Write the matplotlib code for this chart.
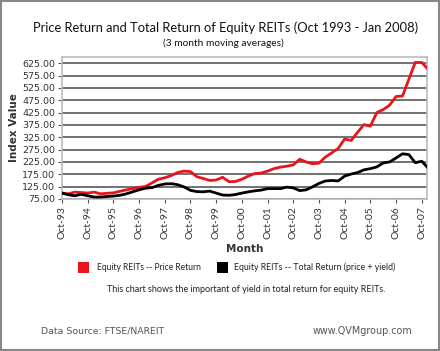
import matplotlib
matplotlib.use("Agg")
import matplotlib.pyplot as plt
import pandas as pd
from matplotlib.patches import Rectangle

# Quarterly readings (3-month moving averages)
dates = pd.date_range("1993-10-01", "2007-10-01", freq="3MS").tolist() + [pd.Timestamp("2007-12-15")]

price_return = [99, 96, 103, 101, 99, 103, 96, 98, 100, 106, 112, 117,
                122, 126, 140, 155, 161, 170, 182, 188, 186, 165, 158, 150,
                152, 163, 145, 146, 155, 168, 178, 180, 188, 198, 204, 208,
                213, 236, 225, 218, 220, 245, 262, 280, 318, 312, 345, 376,
                370, 425, 437, 455, 490, 492, 560, 628, 628, 605]

total_return = [99, 92, 88, 94, 88, 83, 83, 85, 87, 90, 96, 104,
                112, 119, 121, 130, 136, 137, 133, 124, 110, 105, 104, 107,
                99, 91, 90, 93, 99, 104, 108, 111, 117, 117, 117, 123,
                120, 109, 112, 124, 138, 148, 150, 148, 168, 176, 182, 193,
                198, 205, 221, 225, 241, 258, 255, 222, 228, 205]

y_ticks = [75, 125, 175, 225, 275, 325, 375, 425, 475, 525, 575, 625]
x_tick_labels = ["Oct-%02d" % (y % 100) for y in range(1993, 2008)]
x_ticks = [pd.Timestamp(f"{y}-10-01") for y in range(1993, 2008)]

series_names = ["Equity REITs -- Price Return",
                "Equity REITs -- Total Return (price + yield)"]

W, H = 440, 351
fig = plt.figure(figsize=(W / 100, H / 100), dpi=100)
fig.patch.set_facecolor("white")

font = ["Lato", "DejaVu Sans"]
font2 = ["Verdana", "DejaVu Sans"]

fig.add_artist(Rectangle((0.002, 0.003), 0.995, 0.994, transform=fig.transFigure,
                         fill=False, edgecolor="#888888", lw=1.5))

ax = fig.add_axes([62 / W, 1 - 199 / H, (427 - 62) / W, (199 - 57) / H])
ax.plot(dates, price_return, color="#e8141b", lw=2.0, zorder=3)
ax.plot(dates, total_return, color="#000000", lw=2.0, zorder=3)

ax.set_ylim(75, 650)
ax.set_yticks(y_ticks)
ax.set_yticklabels([f"{v:.2f}" for v in y_ticks], fontsize=6.8, color="#333333",
                   family=font2)
ax.set_xlim(pd.Timestamp("1993-10-01"), pd.Timestamp("2007-12-15"))
ax.set_xticks(x_ticks)
ax.set_xticklabels(x_tick_labels, rotation=90, fontsize=7.5, color="#333333",
                   family=font)
ax.grid(axis="y", color="#666666", lw=1.3)
ax.set_axisbelow(True)
for s in ax.spines.values():
    s.set_color("#bbbbbb")
    s.set_linewidth(1.2)
ax.tick_params(axis="both", length=3, width=0.8, color="#555555", pad=2)

ax.set_ylabel("Index Value", fontsize=7.5, fontweight="bold", color="#333333",
              family=font2)
ax.yaxis.set_label_coords((19 - 62) / 365, 0.5)
ax.set_xlabel("Month", fontsize=7.5, fontweight="bold", color="#333333",
              family=font2)
ax.xaxis.set_label_coords((245 - 62) / 365, -(244 - 199) / 142)

texts = []
def put(x, y, s, target_w, ha="center", color="#111111", family=font, size=9):
    t = fig.text(x / W, 1 - y / H, s, ha=ha, va="center", fontsize=size,
                 color=color, family=family)
    texts.append((t, target_w))
    return t

put(226, 28, "Price Return and Total Return of Equity REITs (Oct 1993 - Jan 2008)", 388)
put(223, 43, "(3 month moving averages)", 120)

ly = 267
fig.add_artist(Rectangle((78 / W, 1 - (ly + 5.5) / H), 11 / W, 11 / H, transform=fig.transFigure,
                         facecolor="#e8141b", edgecolor="none"))
put(97, ly, series_names[0], 105, ha="left", color="#222222")
fig.add_artist(Rectangle((217 / W, 1 - (ly + 5.5) / H), 11 / W, 11 / H, transform=fig.transFigure,
                         facecolor="#000000", edgecolor="none"))
put(234, ly, series_names[1], 161, ha="left", color="#222222")

put(246, 290, "This chart shows the important of yield in total return for equity REITs.",
    281, color="#222222")

put(41, 331, "Data Source: FTSE/NAREIT", 124, ha="left", color="#555555", family=font2)
put(412, 331, "www.QVMgroup.com", 100, ha="right", color="#555555", family=font2)

fig.canvas.draw()
r = fig.canvas.get_renderer()
for t, tw in texts:
    w = t.get_window_extent(r).width
    t.set_fontsize(t.get_fontsize() * tw / w)

fig.savefig("out.png", dpi=100, facecolor="white")
